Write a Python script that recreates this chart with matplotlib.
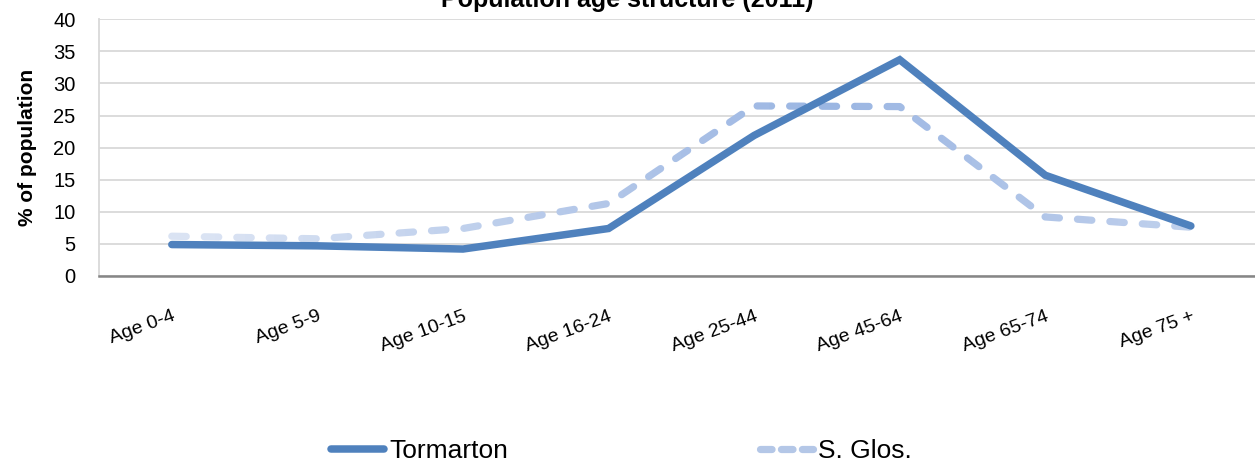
import numpy as np
import matplotlib
matplotlib.use("Agg")
import matplotlib.pyplot as plt
from matplotlib.patches import Rectangle
from matplotlib.lines import Line2D
from matplotlib.colors import to_rgb

plt.rcParams['font.family'] = ['Liberation Sans', 'DejaVu Sans']

age_groups = ["Age 0-4", "Age 5-9", "Age 10-15", "Age 16-24",
              "Age 25-44", "Age 45-64", "Age 65-74", "Age 75 +"]
tormarton = [4.9, 4.7, 4.2, 7.4, 21.9, 33.7, 15.7, 7.8]
s_glos = [6.2, 5.8, 7.4, 11.3, 26.5, 26.4, 9.2, 7.6]

solid_color = "#4f81bd"
light = np.array(to_rgb("#dae3f3"))
dark = np.array(to_rgb("#9ab5e2"))

fig = plt.figure(figsize=(12.55, 4.63), dpi=100)
ax = fig.add_axes([0.0789, 0.4039, 0.928, 0.5544])

x = np.arange(len(age_groups))

# dashed series drawn in vertical strips so the colour fades towards the ends
edges = np.linspace(-0.5, 7.5, 81)
for x0, x1 in zip(edges[:-1], edges[1:]):
    mid = (x0 + x1) / 2
    t = max(0.0, 1 - abs(mid - 4.5) / 4.2)
    col = light + (dark - light) * t
    ln, = ax.plot(x, s_glos, color=col, lw=5.2, solid_capstyle='round',
                  dash_capstyle='round', dashes=(2.0, 2.5), zorder=3)
    ln.set_clip_path(Rectangle((x0, -10), x1 - x0, 70, transform=ax.transData))

ax.plot(x, tormarton, color=solid_color, lw=5.4, solid_capstyle='round',
        solid_joinstyle='miter', zorder=4)

ax.set_xlim(-0.5, 7.5)
ax.set_ylim(0, 40)
ax.set_yticks(np.arange(0, 41, 5))
ax.tick_params(axis='y', length=0, pad=17, labelsize=14.5)
ax.set_xticks(x)
ax.set_xticklabels(age_groups, rotation=20, ha='right', va='top',
                   rotation_mode='anchor', fontsize=14)
ax.tick_params(axis='x', length=0, pad=23)

ax.grid(axis='y', color='#d9d9d9', lw=1.3)
ax.set_axisbelow(True)
for side in ['top', 'right']:
    ax.spines[side].set_visible(False)
ax.spines['left'].set_color('#d9d9d9')
ax.spines['left'].set_linewidth(1.3)
ax.spines['bottom'].set_color('#868686')
ax.spines['bottom'].set_linewidth(1.8)

fig.text(0.0223, 0.4039 + 0.5544 / 2, "% of population", rotation=90,
         fontsize=15, fontweight='bold', ha='center', va='center')
fig.text(0.5, 1 - 7 / 463, "Population age structure (2011)", fontsize=18,
         fontweight='bold', ha='center', va='baseline')

handles = [
    Line2D([], [], color=solid_color, lw=5.4, solid_capstyle='round'),
    Line2D([], [], color="#b4c7e7", lw=5.2, dash_capstyle='round',
           dashes=(1.6, 1.3)),
]
fig.legend(handles, ["Tormarton", "S. Glos."], loc='center left',
           bbox_to_anchor=(0.264, 0.025), ncol=2, frameon=False,
           fontsize=19, handlelength=2.0, handletextpad=0.2,
           columnspacing=9.55, borderpad=0, borderaxespad=0)

fig.savefig("out.png", dpi=100)
